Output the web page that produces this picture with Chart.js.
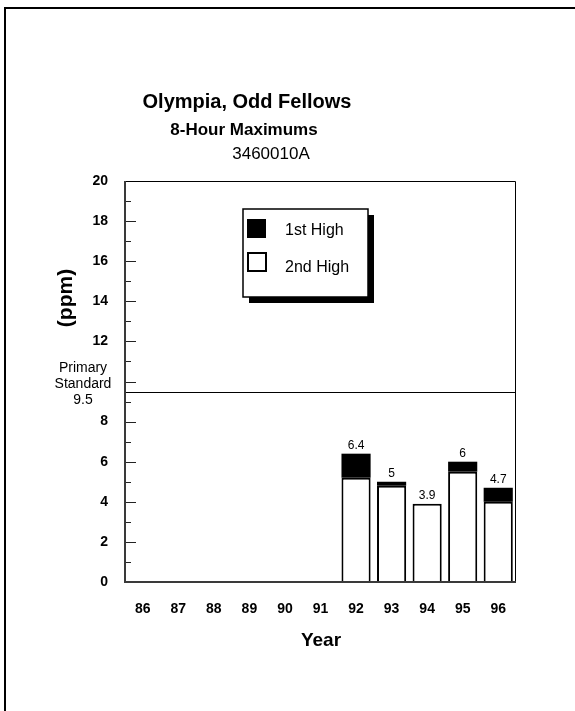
<!DOCTYPE html>
<html>
<head>
<meta charset="utf-8">
<script src="https://cdn.jsdelivr.net/npm/chart.js@4.4.1/dist/chart.umd.min.js"></script>
<style>
  html, body { margin: 0; padding: 0; background: #fff; }
  canvas { display: block; }
</style>
</head>
<body>
<canvas id="chart" width="575" height="711"></canvas>
<script>
// Data
const years = ['86', '87', '88', '89', '90', '91', '92', '93', '94', '95', '96'];
const firstHigh = [0, 0, 0, 0, 0, 0, 6.4, 5, 3.9, 6, 4.7];
const secondHigh = [0, 0, 0, 0, 0, 0, 5.2, 4.8, 3.9, 5.5, 4.0];
// 10 is left out: the primary standard text sits there instead
const yTicks = [0, 2, 4, 6, 8, 12, 14, 16, 18, 20];
const primaryStandard = 9.5;

const FONT = "'Liberation Sans', Arial, sans-serif";

// black part of the bar = 1st high above the 2nd high
const topPart = firstHigh.map((v, i) => +(v - secondHigh[i]).toFixed(2));

// Page decorations: frame, titles, axis lines, inward ticks, legend
const decorPlugin = {
    id: 'decor',
    beforeDraw(chart) {
        const ctx = chart.ctx;
        ctx.save();
        ctx.fillStyle = '#fff';
        ctx.fillRect(0, 0, chart.width, chart.height);
        // outer frame (top + left only)
        ctx.strokeStyle = '#000';
        ctx.lineWidth = 2;
        ctx.beginPath();
        ctx.moveTo(5, 711);
        ctx.lineTo(5, 8);
        ctx.lineTo(575, 8);
        ctx.stroke();
        ctx.restore();
    },
    afterDatasetsDraw(chart) {
        const ctx = chart.ctx;
        const area = chart.chartArea;
        const y = chart.scales.y;
        ctx.save();

        // plot frame top/right
        ctx.strokeStyle = '#000';
        ctx.lineWidth = 1;
        ctx.beginPath();
        ctx.moveTo(area.left, area.top + 0.5);
        ctx.lineTo(area.right - 0.5, area.top + 0.5);
        ctx.lineTo(area.right - 0.5, area.bottom);
        ctx.stroke();

        // primary standard line
        const ys = Math.round(y.getPixelForValue(primaryStandard)) + 0.5;
        ctx.beginPath();
        ctx.moveTo(area.left, ys);
        ctx.lineTo(area.right, ys);
        ctx.stroke();

        // inward ticks
        ctx.strokeStyle = '#222';
        for (let v = 0; v < 20; v++) {
            const py = Math.round(y.getPixelForValue(v)) + 0.5;
            ctx.beginPath();
            ctx.moveTo(area.left, py);
            ctx.lineTo(area.left + (v % 2 === 0 ? 11 : 6), py);
            ctx.stroke();
        }

        // left and bottom axis lines
        ctx.strokeStyle = '#3a3a3a';
        ctx.lineWidth = 2;
        ctx.beginPath();
        ctx.moveTo(area.left, area.top);
        ctx.lineTo(area.left, area.bottom);
        ctx.lineTo(area.right, area.bottom);
        ctx.stroke();

        // value labels on top of bars
        const meta = chart.getDatasetMeta(1);
        ctx.fillStyle = '#000';
        ctx.font = '12px ' + FONT;
        ctx.textAlign = 'center';
        ctx.textBaseline = 'bottom';
        firstHigh.forEach((v, i) => {
            if (!v) return;
            ctx.fillText(String(v), meta.data[i].x, y.getPixelForValue(v) - 2);
        });

        // titles
        ctx.textBaseline = 'middle';
        ctx.font = 'bold 20px ' + FONT;
        ctx.fillText('Olympia, Odd Fellows', 247, 102);
        ctx.font = 'bold 17px ' + FONT;
        ctx.fillText('8-Hour Maximums', 244, 130);
        ctx.font = '17px ' + FONT;
        ctx.fillText('3460010A', 271, 154);

        // primary standard text
        ctx.font = '14px ' + FONT;
        ctx.fillText('Primary', 83, 368);
        ctx.fillText('Standard', 83, 384);
        ctx.fillText(String(primaryStandard), 83, 400);

        // axis titles
        ctx.font = 'bold 19px ' + FONT;
        ctx.fillText('Year', 321, 641);
        ctx.font = 'bold 21px ' + FONT;
        ctx.save();
        ctx.translate(66, 298);
        ctx.rotate(-Math.PI / 2);
        ctx.fillText('(ppm)', 0, 0);
        ctx.restore();

        // legend box with shadow
        const lx = 243, ly = 209, lw = 125, lh = 88;
        ctx.fillStyle = '#000';
        ctx.fillRect(lx + 6, ly + 6, lw, lh);
        ctx.fillStyle = '#fff';
        ctx.fillRect(lx, ly, lw, lh);
        ctx.strokeStyle = '#000';
        ctx.lineWidth = 1.5;
        ctx.strokeRect(lx, ly, lw, lh);
        ctx.fillStyle = '#000';
        ctx.fillRect(247, 219, 19, 19);
        ctx.lineWidth = 2;
        ctx.strokeRect(248, 253, 18, 18);
        ctx.font = '16px ' + FONT;
        ctx.textAlign = 'left';
        ctx.fillText('1st High', 285, 231);
        ctx.fillText('2nd High', 285, 268);

        ctx.restore();
    }
};

new Chart(document.getElementById('chart'), {
    type: 'bar',
    data: {
        labels: years,
        datasets: [{
            label: '2nd High',
            data: secondHigh,
            backgroundColor: '#fff',
            borderColor: '#000',
            borderWidth: 2,
            borderSkipped: 'bottom',
            stack: 's'
        }, {
            label: '1st High',
            data: topPart,
            backgroundColor: '#000',
            borderColor: '#000',
            borderWidth: 0,
            stack: 's'
        }]
    },
    options: {
        responsive: false,
        animation: false,
        events: [],
        layout: { padding: { left: 0, top: 181, right: 59, bottom: 69 } },
        datasets: { bar: { categoryPercentage: 1, barPercentage: 0.82 } },
        plugins: {
            legend: { display: false },
            tooltip: { enabled: false },
            title: { display: false }
        },
        scales: {
            x: {
                stacked: true,
                grid: { display: false },
                border: { display: false },
                ticks: {
                    color: '#000',
                    font: { family: FONT, size: 14, weight: 'bold' },
                    padding: 11
                },
                afterFit(scale) { scale.height = 60; }
            },
            y: {
                stacked: true,
                min: 0,
                max: 20,
                grid: { display: false },
                border: { display: false },
                afterBuildTicks(scale) {
                    scale.ticks = yTicks.map(v => ({ value: v }));
                },
                ticks: {
                    color: '#000',
                    font: { family: FONT, size: 14, weight: 'bold' },
                    padding: 9,
                    autoSkip: false
                },
                afterFit(scale) { scale.width = 125; }
            }
        }
    },
    plugins: [decorPlugin]
});
</script>
</body>
</html>
